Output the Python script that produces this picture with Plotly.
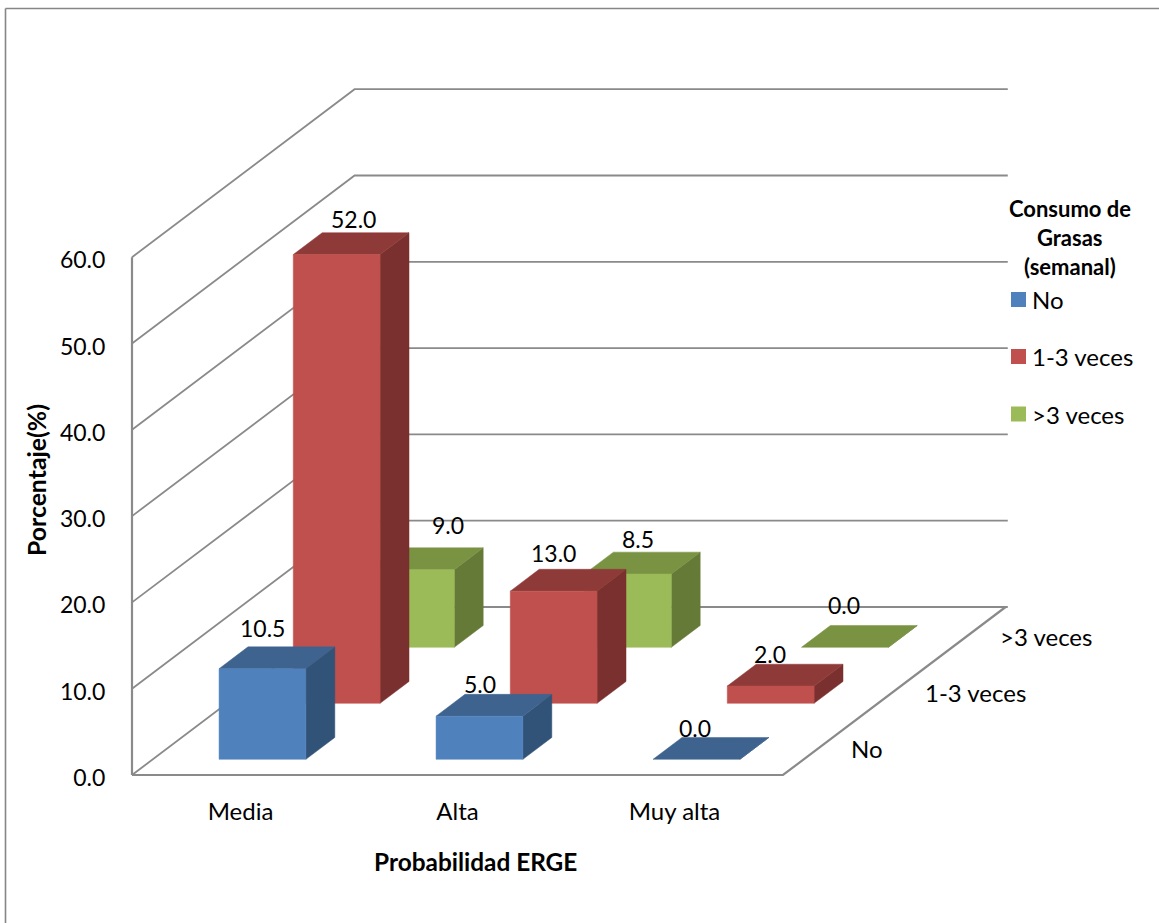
import plotly.graph_objects as go

# Chart data
categories = ["Media", "Alta", "Muy alta"]
series_names = ["No", "1-3 veces", ">3 veces"]
values_no = [10.5, 5.0, 0.0]
values_1_3 = [52.0, 13.0, 2.0]
values_more_3 = [9.0, 8.5, 0.0]
y_ticks = [0, 10, 20, 30, 40, 50, 60]

# Face colours of each series: front, top, side
front_colors = ["#4F81BD", "#C0504D", "#9BBB59"]
top_colors = ["#3E638F", "#8E3A38", "#799343"]
side_colors = ["#325378", "#7A302E", "#667A38"]
GRID = "#8A8A8A"
FONT = "Lato"
FS = 23       # numbers
FS_NAME = 24  # category and series names

# Canvas and oblique projection: x is in category units, y in percent units
W, H = 1159, 923
PX_CAT, PX_VAL = 217.0, 8.63
X0, Y0 = 132.0, 775.0
DEPTH_X = 74.2 / PX_CAT    # category units per depth row
DEPTH_Y = 56.0 / PX_VAL    # percent units per depth row
ROWS = len(series_names)
BAR_U, BAR_W = 0.3055, 0.40
BAR_D, BAR_DEPTH = 0.28, 0.39

def proj(u, d, z):
    return u + d * DEPTH_X, z + d * DEPTH_Y

fig = go.Figure()

def polyline(points, width=1.8, color=GRID):
    xs, ys = zip(*[proj(*p) for p in points])
    fig.add_trace(go.Scatter(x=xs, y=ys, mode="lines", line=dict(color=color, width=width),
                             hoverinfo="skip", showlegend=False))

def face(points, color):
    xs, ys = zip(*[proj(*p) for p in points])
    fig.add_trace(go.Scatter(x=list(xs) + [xs[0]], y=list(ys) + [ys[0]], mode="lines",
                             line=dict(color=color, width=0.5), fill="toself", fillcolor=color,
                             hoverinfo="skip", showlegend=False))

n_cat = len(categories)

# Walls: one bent gridline per tick, running along the side wall then the back wall
for t in y_ticks:
    polyline([(0, 0, t), (0, ROWS, t), (n_cat + 0.01, ROWS, t)])
polyline([(0, 0, 0), (0, 0, y_ticks[-1])], width=2.2)

# Floor outline
polyline([(0, 0, 0), (n_cat, 0, 0), (n_cat, ROWS, 0)], width=2.2)

# Bars, painted from the back row to the front row
all_values = [values_no, values_1_3, values_more_3]
for r in reversed(range(ROWS)):
    for c, v in enumerate(all_values[r]):
        u0, u1 = c + BAR_U, c + BAR_U + BAR_W
        d0, d1 = r + BAR_D, r + BAR_D + BAR_DEPTH
        face([(u1, d0, 0), (u1, d1, 0), (u1, d1, v), (u1, d0, v)], side_colors[r])
        face([(u0, d0, v), (u1, d0, v), (u1, d1, v), (u0, d1, v)], top_colors[r])
        if v > 0:
            face([(u0, d0, 0), (u1, d0, 0), (u1, d0, v), (u0, d0, v)], front_colors[r])

annotations = []

def text(x, y, s, size=FS, bold=False, xanchor="center", xshift=0, yshift=0, ref="x", angle=0):
    annotations.append(dict(
        x=x, y=y, xref="x" if ref == "x" else "paper", yref="y" if ref == "x" else "paper",
        text=f"<b>{s}</b>" if bold else s, showarrow=False, xanchor=xanchor, yanchor="middle",
        xshift=xshift, yshift=yshift, textangle=angle,
        font=dict(family=FONT, size=size, color="black"),
    ))

# Value labels, nudged off the centre of each bar's top face (pixels: right, up)
label_shifts = [
    [(-14.5, 30), (-14, 21), (-15.5, 20.5)],
    [(2, 25), (-15, 27), (-15, 21)],
    [(23, 34), (-4.5, 24), (-15, 31)],
]
for r, vals in enumerate(all_values):
    for c, v in enumerate(vals):
        x, y = proj(c + BAR_U + BAR_W / 2, r + BAR_D + BAR_DEPTH / 2, v)
        dx, dy = label_shifts[r][c]
        text(x, y, f"{v:.1f}", xshift=dx, yshift=dy)

# Depth axis labels beside the right floor edge
for r, name in enumerate(series_names):
    x, y = proj(n_cat, r + 0.5, 0)
    text(x, y, name, size=FS_NAME, xanchor="left", xshift=29, yshift=-1)

# Axis titles
text(37 / W, 1 - 480 / H, "Porcentaje(%)", size=24.8, bold=True, ref="paper", angle=-90)
text(475 / W, 1 - 861 / H, "Probabilidad ERGE", size=24.4, bold=True, ref="paper")

# Legend block
for i, line in enumerate(["Consumo de", "Grasas", "(semanal)"]):
    text(1070 / W, 1 - (208 + 29 * i) / H, line, size=22, bold=True, ref="paper")

shapes = []
legend_y = [299.5, 356.5, 414]
for i, name in enumerate(series_names):
    shapes.append(dict(type="rect", xref="paper", yref="paper", x0=1011 / W, x1=1026 / W,
                       y0=1 - (legend_y[i] + 7.5) / H, y1=1 - (legend_y[i] - 7.5) / H,
                       fillcolor=front_colors[i], line=dict(width=0)))
    text(1030 / W, 1 - legend_y[i] / H, name, size=FS_NAME, xanchor="left", ref="paper")

# Chart area border, open at the right and bottom edges of the page
shapes.append(dict(type="line", xref="paper", yref="paper", x0=5.5 / W, x1=5.5 / W, y0=0, y1=1 - 8.5 / H,
                   line=dict(color="#868686", width=1.6)))
shapes.append(dict(type="line", xref="paper", yref="paper", x0=5.5 / W, x1=1, y0=1 - 8.5 / H, y1=1 - 8.5 / H,
                   line=dict(color="#868686", width=1.6)))

fig.update_layout(
    width=W, height=H, autosize=False, margin=dict(l=0, r=0, t=0, b=0),
    paper_bgcolor="white", plot_bgcolor="white", showlegend=False,
    annotations=annotations, shapes=shapes,
    xaxis=dict(
        range=[-X0 / PX_CAT, (W - X0) / PX_CAT], domain=[0, 1], anchor="free", position=(H - Y0) / H,
        tickmode="array", tickvals=[c + 0.5 for c in range(n_cat)], ticktext=categories,
        ticks="outside", ticklen=15, tickcolor="rgba(0,0,0,0)", showgrid=False, zeroline=False, showline=False,
        tickfont=dict(family=FONT, size=FS_NAME, color="black"),
    ),
    yaxis=dict(
        range=[(Y0 - H) / PX_VAL, Y0 / PX_VAL], domain=[0, 1], anchor="free", position=X0 / W,
        tickmode="array", tickvals=y_ticks, ticktext=[f"{t:.1f}" for t in y_ticks],
        ticks="outside", ticklen=22, tickcolor="rgba(0,0,0,0)", showgrid=False, zeroline=False, showline=False,
        ticklabelshift=3,
        tickfont=dict(family=FONT, size=FS, color="black"),
    ),
)

fig.write_html("out.html")
